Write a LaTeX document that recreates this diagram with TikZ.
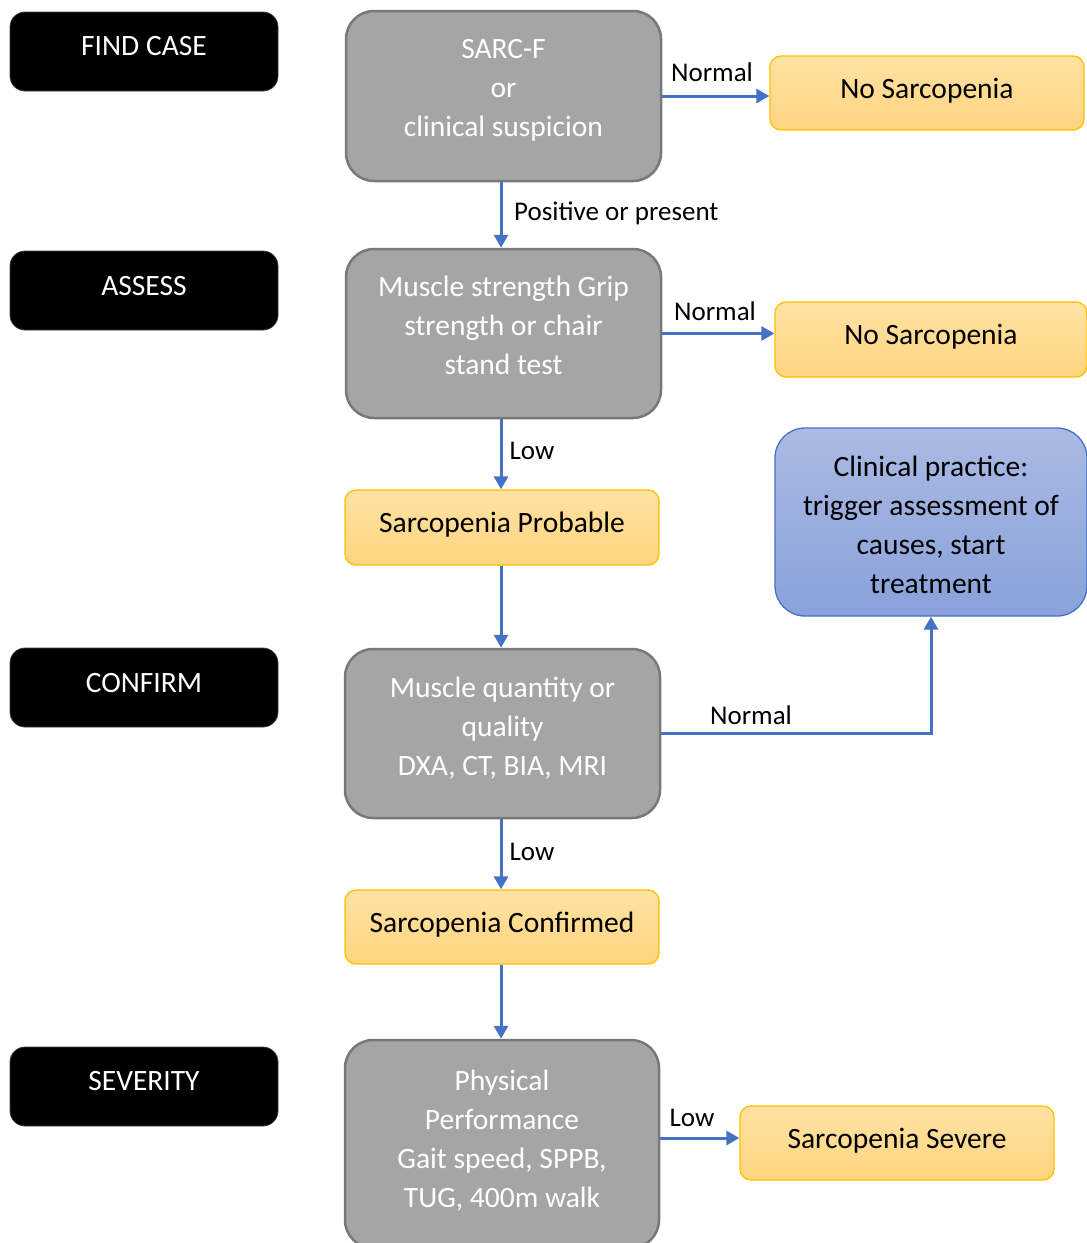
\documentclass[tikz,border=0pt]{standalone}
\usepackage{fontspec}
\setmainfont{Carlito}
\usetikzlibrary{arrows.meta}
\definecolor{grayfill}{HTML}{A5A5A5}
\definecolor{grayline}{HTML}{787878}
\definecolor{ytop}{HTML}{FFE2A3}
\definecolor{ybot}{HTML}{FFD47F}
\definecolor{yline}{HTML}{FFC000}
\definecolor{btop}{HTML}{AABAE3}
\definecolor{bbot}{HTML}{89A1DA}
\definecolor{bline}{HTML}{4472C4}
\definecolor{arrowblue}{HTML}{4472C4}
\tikzset{
  blackbox/.style={draw=black!75, line width=0.8pt, fill=black, rounded corners=15pt, minimum width=268pt, minimum height=79pt, inner sep=0pt},
  blacktext/.style={text=white, font=\fontsize{29.5}{39}\selectfont, inner sep=0pt},
  graybox/.style={draw=grayline, line width=2.5pt, fill=grayfill, rounded corners=28pt, inner sep=0pt},
  graytext/.style={text=white, font=\fontsize{29.5}{39}\selectfont, align=center, inner sep=0pt},
  yellowbox/.style={draw=yline, line width=1.3pt, top color=ytop, bottom color=ybot, rounded corners=11pt, minimum width=314pt, minimum height=74pt, inner sep=0pt},
  bluebox/.style={draw=bline, line width=1.3pt, top color=btop, bottom color=bbot, rounded corners=30pt, inner sep=0pt},
  darktext/.style={text=black, font=\fontsize{29.5}{39}\selectfont, align=center, inner sep=0pt},
  lbl/.style={text=black, font=\fontsize{27}{32}\selectfont, inner sep=0pt},
  arr/.style={draw=arrowblue, line width=3pt, -{Triangle[length=13pt,width=14pt]}},
}
\begin{document}
\begin{tikzpicture}[x=1pt,y=-1pt]
\useasboundingbox (0,0) rectangle (1087,1243);
% left stage labels
\node[blackbox] (b1) at (144,51.5) {};
\node[blacktext] (b1t) at (144,48) {\strut FIND CASE};
\node[blackbox] (b2) at (144,290.5) {};
\node[blacktext] (b2t) at (144,288) {\strut ASSESS};
\node[blackbox] (b3) at (144,687.5) {};
\node[blacktext] (b3t) at (144,685) {\strut CONFIRM};
\node[blackbox] (b4) at (144,1086.5) {};
\node[blacktext] (b4t) at (144,1083) {\strut SEVERITY};
% gray boxes
\node[graybox, minimum width=315pt, minimum height=170pt] (g1) at (503.5,96) {};
\node[graytext] (g1t) at (503.5,90) {\strut SARC-F\\\strut or\\\strut clinical suspicion};
\node[graybox, minimum width=315pt, minimum height=169pt] (g2) at (503.5,333.5) {};
\node[graytext] (g2t) at (503.5,328) {\strut Muscle strength Grip\\\strut strength or chair\\\strut stand test};
\node[graybox, minimum width=315pt, minimum height=169pt] (g3) at (502.5,733.5) {};
\node[graytext] (g3t) at (502.5,728.5) {\strut Muscle quantity or\\\strut quality\\\strut DXA, CT, BIA, MRI};
\node[graybox, minimum width=314pt, minimum height=208pt] (g4) at (502,1144) {};
\node[graytext] (g4t) at (502,1141) {\strut Physical\\\strut Performance\\\strut Gait speed, SPPB,\\\strut TUG, 400m walk};
% yellow boxes
\node[yellowbox] (n1) at (927,93) {};
\node[darktext] (n1t) at (927,91) {\strut No Sarcopenia};
\node[yellowbox, minimum width=312pt, minimum height=75pt] (n2) at (931,339.5) {};
\node[darktext] (n2t) at (931,337) {\strut No Sarcopenia};
\node[yellowbox, minimum height=75pt] (prob) at (502,527.5) {};
\node[darktext] (probt) at (502,525) {\strut Sarcopenia Probable};
\node[yellowbox] (conf) at (502,927) {};
\node[darktext] (conft) at (502,925) {\strut Sarcopenia Confirmed};
\node[yellowbox] (sev) at (897,1143) {};
\node[darktext] (sevt) at (897,1141) {\strut Sarcopenia Severe};
% blue box
\node[bluebox, minimum width=312pt, minimum height=188pt] (clin) at (931,522) {};
\node[darktext] (clint) at (931,527) {\strut Clinical practice:\\\strut trigger assessment of\\\strut causes, start\\\strut treatment};
% connectors
\draw[arr] (g1.east) -- (g1.east -| n1.west);
\draw[arr] ([xshift=-1pt]g1.south -| prob.north) -- ([xshift=-1pt]g2.north -| prob.north);
\draw[arr] (g2.east) -- (g2.east -| n2.west);
\draw[arr] ([xshift=-1pt]g2.south -| prob.north) -- ([xshift=-1pt]prob.north);
\draw[arr] ([xshift=-1pt]prob.south) -- ([xshift=-1pt]g3.north -| prob.north);
\draw[arr] (g3.east) -- (g3.east -| clin.south) -- (clin.south);
\draw[arr] ([xshift=-1pt]g3.south -| conf.north) -- ([xshift=-1pt]conf.north);
\draw[arr] ([xshift=-1pt]conf.south) -- ([xshift=-1pt]g4.north -| conf.south);
\draw[arr] ([yshift=5pt]sev.west -| g4.east) -- ([yshift=5pt]sev.west);
% connector labels
\node[lbl] (l1) at (712,75) {\strut Normal};
\node[lbl, anchor=west] (l2) at (514,214) {\strut Positive or present};
\node[lbl] (l3) at (715,314) {\strut Normal};
\node[lbl] (l4) at (532,453) {\strut Low};
\node[lbl] (l5) at (751,718) {\strut Normal};
\node[lbl] (l6) at (532,854) {\strut Low};
\node[lbl] (l7) at (692,1120) {\strut Low};
\end{tikzpicture}
\end{document}
